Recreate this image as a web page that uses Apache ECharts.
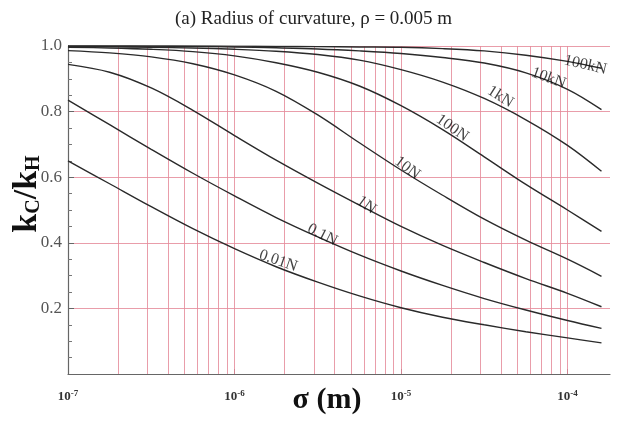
<!DOCTYPE html>
<html><head><meta charset="utf-8">
<script src="https://cdn.jsdelivr.net/npm/echarts@6/dist/echarts.min.js"></script>
<style>html,body{margin:0;padding:0;background:#fff}#c{width:639px;height:421px}</style>
</head><body><div id="c"></div>
<script>
// ---- data ----
const xValues = [1e-7, 1.778e-7, 3.162e-7, 5.623e-7, 1e-6, 1.778e-6, 3.162e-6, 5.623e-6, 1e-5, 1.778e-5, 3.162e-5, 5.623e-5, 1e-4, 1.6e-4];
const curveNames = ['0.01N', '0.1N', '1N', '10N', '100N', '1kN', '10kN', '100kN'];
const y001N  = [0.650, 0.580, 0.510, 0.443, 0.382, 0.327, 0.280, 0.238, 0.202, 0.173, 0.150, 0.129, 0.110, 0.095];
const y01N   = [0.835, 0.760, 0.685, 0.612, 0.543, 0.477, 0.418, 0.363, 0.314, 0.270, 0.230, 0.195, 0.163, 0.139];
const y1N    = [0.944, 0.920, 0.872, 0.804, 0.727, 0.652, 0.582, 0.515, 0.450, 0.392, 0.340, 0.291, 0.246, 0.205];
const y10N   = [0.986, 0.979, 0.967, 0.946, 0.912, 0.862, 0.790, 0.705, 0.622, 0.545, 0.472, 0.408, 0.350, 0.298];
const y100N  = [0.996, 0.994, 0.990, 0.983, 0.970, 0.949, 0.920, 0.878, 0.818, 0.745, 0.662, 0.578, 0.500, 0.435];
const y1kN   = [0.999, 0.998, 0.996, 0.994, 0.990, 0.984, 0.974, 0.957, 0.928, 0.890, 0.840, 0.775, 0.697, 0.618];
const y10kN  = [1.000, 1.000, 0.9995, 0.999, 0.997, 0.9945, 0.991, 0.985, 0.977, 0.965, 0.948, 0.918, 0.868, 0.806];
const y100kN = [1.000, 1.000, 1.000, 1.000, 0.9995, 0.999, 0.998, 0.997, 0.996, 0.992, 0.985, 0.972, 0.953, 0.932];
const curves = [y001N, y01N, y1N, y10N, y100N, y1kN, y10kN, y100kN];
// curve label anchors (data coords) and rotation
const labelX = [1.83e-6, 3.37e-6, 6.2e-6, 1.09e-5, 2.03e-5, 3.95e-5, 7.7e-5, 1.28e-4];
const labelY = [0.345, 0.424, 0.515, 0.628, 0.750, 0.845, 0.902, 0.942];
const labelRot = [-19, -27, -36, -37, -35, -32, -20, -13];
// axis ticks
const xMin = 1e-7, xMax = 1.8e-4;
const yTicks = [0.2, 0.4, 0.6, 0.8, 1.0];
const decades = [1e-7, 1e-6, 1e-5, 1e-4];
const mult = [1, 2, 3, 4, 5, 6, 7, 8, 9];

const gridX = [];
decades.forEach(d => mult.forEach(m => { const v = d * m; if (v > xMin * 1.0001 && v <= xMax) gridX.push(v); }));

const serif = '"Liberation Serif", "DejaVu Serif", serif';
const gridColor = '#e58c9b';

const series = [];
series.push({
  type: 'lines', coordinateSystem: 'cartesian2d', silent: true, polyline: false,
  data: gridX.map(v => ({ coords: [[v, 0], [v, 1]] })),
  lineStyle: { color: gridColor, width: 1, opacity: 0.85 },
  z: 1
});
curves.forEach((arr, i) => series.push({
  type: 'line', name: curveNames[i],
  data: xValues.map((x, j) => [x, arr[j]]),
  smooth: 0.35, symbol: 'none',
  lineStyle: { color: '#2a2a2a', width: 1.4 },
  z: 3
}));
series.push({
  type: 'scatter', name: 'labels',
  data: labelX.map((x, i) => ({ value: [x, labelY[i]], name: curveNames[i],
    label: { rotate: labelRot[i] } })),
  symbolSize: 0,
  label: { show: true, position: 'inside', formatter: p => p.name,
    fontFamily: serif, fontSize: 16, color: '#111' },
  z: 4
});

const isDecade = v => { const l = Math.log10(v); return Math.abs(l - Math.round(l)) < 1e-6; };

const chart = echarts.init(document.getElementById('c'), null, { renderer: 'canvas' });
chart.setOption({
  animation: false,
  backgroundColor: '#fff',
  title: { text: '(a) Radius of curvature, \u03c1 = 0.005 m', left: 170, top: 5,
    textStyle: { fontFamily: serif, fontSize: 19, fontWeight: 'normal', color: '#222' } },
  grid: { left: 68, right: 29, top: 46, bottom: 47, containLabel: false, outerBoundsMode: 'none' },
  xAxis: {
    type: 'log', logBase: 10, min: xMin, max: xMax,
    axisLine: { lineStyle: { color: '#666', width: 1.2 } },
    axisTick: { show: true, inside: true, length: 5, lineStyle: { color: '#666' } },
    splitLine: { show: false },
    axisLabel: {
      margin: 15, showMaxLabel: false,
      formatter: v => isDecade(v) ? '{b|10}{s|' + Math.round(Math.log10(v)) + '}' : '',
      rich: {
        b: { fontFamily: serif, fontSize: 13, fontWeight: 'bold', color: '#333' },
        s: { fontFamily: serif, fontSize: 9, fontWeight: 'bold', color: '#333', verticalAlign: 'top', padding: [0, 0, 7, 0] }
      }
    },
    name: '\u03c3 (m)', nameLocation: 'middle', nameGap: 11, nameMoveOverlap: false,
    nameTextStyle: { fontFamily: serif, fontSize: 30, fontWeight: 'bold', color: '#111', padding: [0, 24, 0, 0] }
  },
  yAxis: {
    type: 'value', min: 0, max: 1, interval: 0.2,
    axisLine: { show: true, lineStyle: { color: '#666', width: 1.2 } },
    axisTick: { show: true, inside: true, length: 6, lineStyle: { color: '#666' } },
    minorTick: { show: true, splitNumber: 4, length: 4, lineStyle: { color: '#777' } },
    splitLine: { show: true, lineStyle: { color: gridColor, width: 1, opacity: 0.85 } },
    axisLabel: { margin: 6, fontFamily: serif, fontSize: 17, color: '#555',
      formatter: v => (yTicks.some(t => Math.abs(t - v) < 1e-9) ? v.toFixed(1) : '') },
    name: '{k|k}{sub|C}{k|/k}{sub|H}', nameLocation: 'middle', nameRotate: 90, nameGap: 24, nameMoveOverlap: false,
    nameTextStyle: { padding: [0, 0, 0, 32], rich: {
      k: { fontFamily: serif, fontSize: 34, fontWeight: 'bold', color: '#111' },
      sub: { fontFamily: serif, fontSize: 20, fontWeight: 'bold', color: '#111', verticalAlign: 'bottom', padding: [12, 0, 0, 0] }
    } }
  },
  series: series
});
</script></body></html>
